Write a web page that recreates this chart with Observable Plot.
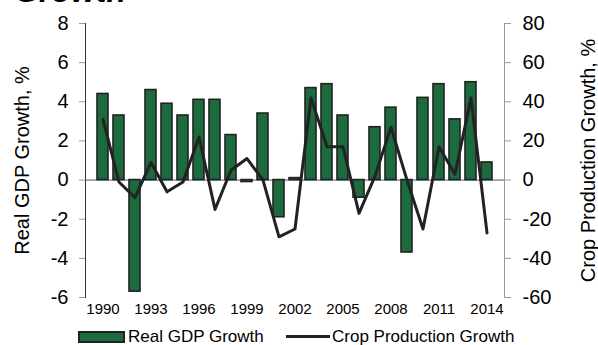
<!DOCTYPE html>
<html>
<head>
<meta charset="utf-8">
<script src="https://cdn.jsdelivr.net/npm/d3@7"></script>
<script src="https://cdn.jsdelivr.net/npm/@observablehq/plot@0.6"></script>
<style>
  html, body { margin: 0; padding: 0; background: #fff; }
  #wrap { position: relative; width: 598px; height: 345px; overflow: hidden;
          font-family: "Liberation Sans", Arial, sans-serif; color: #000; }
  #title { position: absolute; left: 14px; top: -25px; font-size: 32px; line-height: 32px;
           font-weight: bold; font-style: italic; white-space: nowrap; }
  #chart { position: absolute; left: 0; top: 0; }
  .legend { position: absolute; top: 327px; left: 0; width: 598px; height: 19px;
            font-size: 17px; line-height: 19px; white-space: nowrap; }
  .legend .item { position: absolute; top: 0; }
  .legend .swatch-bar { display: inline-block; width: 43px; height: 8px; background: #1b6b3e;
                        border: 2px solid #222; vertical-align: middle; margin-right: 3px;
                        position: relative; top: -1px; }
  .legend .swatch-line { display: inline-block; width: 44px; height: 3px; background: #222;
                         vertical-align: middle; margin-right: 2px; position: relative; top: -1px; }
</style>
</head>
<body>
<div id="wrap">
  <div id="title">Growth</div>
  <div id="chart"></div>
  <div class="legend">
    <span class="item" style="left:78px"><span class="swatch-bar"></span>Real GDP Growth</span>
    <span class="item" style="left:286px"><span class="swatch-line"></span>Crop Production Growth</span>
  </div>
</div>
<script>
// Annual series, 1990–2014
const years = d3.range(1990, 2015);
const gdpGrowth = [4.4, 3.3, -5.7, 4.6, 3.9, 3.3, 4.1, 4.1, 2.3, -0.1, 3.4, -1.9, 0.1,
                   4.7, 4.9, 3.3, -0.9, 2.7, 3.7, -3.7, 4.2, 4.9, 3.1, 5.0, 0.9];
const cropGrowth = [31, -1, -9, 9, -6, -1, 22, -15, 5, 11, 0, -29, -25,
                    42, 17, 17, -17, 2, 27, 0, -25, 17, 3, 42, -27];

// Axis ticks
const gdpTicks = [-6, -4, -2, 0, 2, 4, 6, 8];
const cropTicks = [-60, -40, -20, 0, 20, 40, 60, 80];
const yearTicks = [1990, 1993, 1996, 1999, 2002, 2005, 2008, 2011, 2014];

// The crop axis spans ten times the GDP axis, so crop values share the y scale after /10
const cropScale = 10;

const rows = years.map((year, i) => ({year, gdp: gdpGrowth[i], crop: cropGrowth[i] / cropScale}));
const fmt = d => (d < 0 ? "-" + Math.abs(d) : String(d));

const chart = Plot.plot({
  width: 598,
  height: 326,
  marginTop: 23,
  marginBottom: 29,
  marginLeft: 85,
  marginRight: 94,
  style: {fontFamily: "'Liberation Sans', Arial, sans-serif", background: "transparent"},
  x: {type: "band", domain: years, paddingInner: 0.3, paddingOuter: 0.15},
  y: {domain: [-6, 8]},
  marks: [
    Plot.frame({anchor: "left", stroke: "#333"}),
    Plot.frame({anchor: "right", stroke: "#999"}),
    Plot.axisY({
      anchor: "left", ticks: gdpTicks, tickFormat: fmt, tickSize: 6, tickPadding: 11,
      stroke: "#999", fontSize: 20, label: "Real GDP Growth, %", labelAnchor: "center",
      labelArrow: "none", labelOffset: 71
    }),
    Plot.axisY({
      anchor: "right", ticks: cropTicks.map(d => d / cropScale), tickFormat: d => fmt(Math.round(d * cropScale)),
      tickSize: 6, tickPadding: 12, stroke: "#999", fontSize: 20,
      label: "Crop Production Growth, %", labelAnchor: "center", labelArrow: "none", labelOffset: 90
    }),
    Plot.axisX({ticks: yearTicks, tickFormat: d => String(d), tickSize: 0, tickPadding: 6, fontSize: 15, label: null}),
    Plot.ruleY([0], {stroke: "#555", strokeWidth: 1}),
    Plot.barY(rows, {x: "year", y: "gdp", fill: "#1b6b3e", stroke: "#222", strokeWidth: 1.6}),
    Plot.lineY(rows, {x: "year", y: "crop", stroke: "#222", strokeWidth: 3})
  ]
});
document.getElementById("chart").appendChild(chart);
</script>
</body>
</html>
